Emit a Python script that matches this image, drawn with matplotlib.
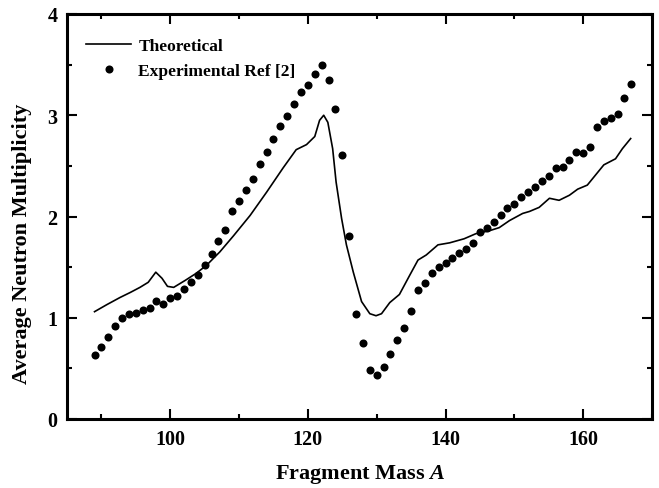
import matplotlib

matplotlib.use("Agg")
import matplotlib.pyplot as plt
from matplotlib.ticker import MultipleLocator

plt.rcParams["font.family"] = ["Liberation Serif", "DejaVu Serif"]
plt.rcParams["mathtext.fontset"] = "custom"
plt.rcParams["mathtext.it"] = "Liberation Serif:italic:bold"
plt.rcParams["mathtext.rm"] = "Liberation Serif:bold"

# experimental points (one per mass unit)
exp_mass = list(range(89, 168))
exp_nu = [
    0.63, 0.71, 0.81, 0.92, 1.00, 1.04, 1.05, 1.08, 1.10, 1.17,
    1.14, 1.20, 1.21, 1.28, 1.35, 1.42, 1.52, 1.63, 1.76, 1.87,
    2.05, 2.15, 2.26, 2.37, 2.52, 2.64, 2.77, 2.89, 2.99, 3.11,
    3.23, 3.30, 3.41, 3.50, 3.35, 3.06, 2.61, 1.81, 1.04, 0.75,
    0.48, 0.43, 0.51, 0.64, 0.78, 0.90, 1.07, 1.27, 1.34, 1.44,
    1.50, 1.54, 1.59, 1.64, 1.68, 1.74, 1.85, 1.89, 1.95, 2.01,
    2.08, 2.12, 2.19, 2.24, 2.29, 2.35, 2.40, 2.48, 2.49, 2.56,
    2.64, 2.63, 2.69, 2.88, 2.94, 2.97, 3.01, 3.17, 3.31,
]

# theoretical curve
th_mass = [
    89.0, 90.8, 92.7, 94.2, 95.6, 96.8, 97.9, 98.8, 99.6, 100.5,
    102.2, 103.8, 105.3, 107.2, 109.2, 111.6, 114.0, 116.4, 118.3, 119.8,
    121.0, 121.7, 122.3, 122.9, 123.6, 124.1, 124.9, 125.6, 126.6, 127.8,
    129.0, 129.9, 130.7, 131.9, 133.3, 134.8, 136.0, 137.2, 138.9, 140.6,
    142.7, 144.4, 146.4, 147.8, 149.3, 151.2, 152.2, 153.6, 155.1, 156.5,
    158.0, 159.2, 160.6, 161.8, 163.0, 164.7, 165.7, 166.9,
]
th_nu = [
    1.06, 1.13, 1.20, 1.25, 1.30, 1.35, 1.45, 1.39, 1.31, 1.30,
    1.37, 1.44, 1.52, 1.65, 1.81, 2.01, 2.24, 2.48, 2.66, 2.71,
    2.79, 2.95, 3.00, 2.93, 2.67, 2.34, 1.98, 1.72, 1.45, 1.16,
    1.04, 1.02, 1.04, 1.15, 1.23, 1.42, 1.57, 1.62, 1.72, 1.74,
    1.78, 1.83, 1.86, 1.89, 1.96, 2.03, 2.05, 2.09, 2.18, 2.16,
    2.21, 2.27, 2.31, 2.41, 2.51, 2.57, 2.67, 2.77,
]

fig = plt.figure(figsize=(6.59, 4.89), dpi=100)
ax = fig.add_axes([67 / 659, 69 / 489, 585 / 659, 405 / 489])

ax.plot(th_mass, th_nu, color="black", lw=1.2, label="Theoretical")
ax.plot(exp_mass, exp_nu, "o", color="black", ms=5.8, mec="none",
        label="Experimental Ref [2]")

ax.set_xlim(85, 170)
ax.set_ylim(0, 4)
ax.xaxis.set_major_locator(MultipleLocator(20))
ax.xaxis.set_minor_locator(MultipleLocator(10))
ax.yaxis.set_major_locator(MultipleLocator(1))
ax.yaxis.set_minor_locator(MultipleLocator(0.5))
ax.tick_params(which="both", direction="in", top=True, right=True, width=1.5)
ax.tick_params(which="major", length=7, labelsize=14.5, pad=7)
ax.tick_params(which="minor", length=3.5)
for lab in ax.get_xticklabels() + ax.get_yticklabels():
    lab.set_fontweight("bold")
for sp in ax.spines.values():
    sp.set_linewidth(2.2)

fig.text(360 / 659, 1 - 475 / 489, r"Fragment Mass $A$", fontsize=16,
         fontweight="bold", ha="center", va="center")
fig.text(22 / 659, 1 - 244 / 489, "Average Neutron Multiplicity", fontsize=16,
         fontweight="bold", rotation=90, ha="center", va="center")

ax.legend(loc="upper left", bbox_to_anchor=(0.033, 0.94), frameon=False,
          prop={"weight": "bold", "size": 12.5}, handlelength=2.6,
          handletextpad=0.4, borderaxespad=0, borderpad=0, labelspacing=0.5)

fig.savefig("out.png", dpi=100)
